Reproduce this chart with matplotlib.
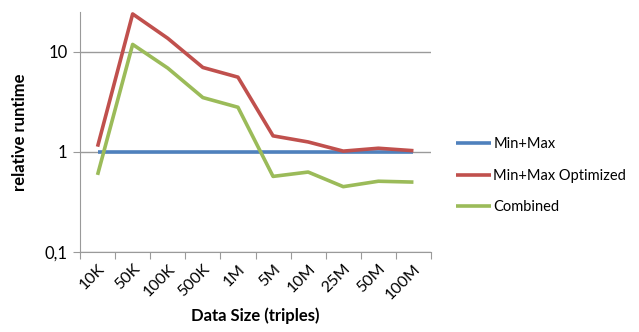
import matplotlib
matplotlib.use("Agg")
import matplotlib.pyplot as plt
from matplotlib.ticker import FixedLocator, NullLocator
import numpy as np

plt.rcParams['font.family'] = ['Lato', 'DejaVu Sans']

sizes = ["10K", "50K", "100K", "500K", "1M", "5M", "10M", "25M", "50M", "100M"]
min_max = [1, 1, 1, 1, 1, 1, 1, 1, 1, 1]
min_max_opt = [1.13, 24.0, 13.7, 7.0, 5.6, 1.45, 1.26, 1.02, 1.09, 1.03]
combined = [0.59, 11.9, 6.9, 3.5, 2.8, 0.57, 0.63, 0.45, 0.51, 0.50]

series = [
    ("Min+Max", min_max, "#4F81BD"),
    ("Min+Max Optimized", min_max_opt, "#C0504D"),
    ("Combined", combined, "#9BBB59"),
]

fig = plt.figure(figsize=(6.39, 3.32), dpi=100)
ax = fig.add_axes([80 / 639, 1 - 252 / 332, 351 / 639, 240 / 332])

x = np.arange(len(sizes))
for name, vals, col in series:
    ax.plot(x, vals, color=col, lw=2.6, label=name, solid_capstyle='butt')

ax.set_yscale('log')
ax.set_ylim(0.1, 25.1)
ax.set_xlim(-0.5, len(sizes) - 0.5)

ax.yaxis.set_major_locator(FixedLocator([0.1, 1, 10]))
ax.yaxis.set_minor_locator(NullLocator())
ax.set_yticklabels(["0,1", "1", "10"])
ax.grid(axis='y', which='major', color='#9a9a9a', lw=1)
ax.set_axisbelow(True)

ax.xaxis.set_major_locator(FixedLocator(np.arange(-0.5, len(sizes), 1)))
ax.xaxis.set_major_formatter(plt.NullFormatter())
ax.xaxis.set_minor_locator(FixedLocator(x))
ax.set_xticklabels(sizes, minor=True, rotation=45, ha='right', va='top',
                   rotation_mode='anchor')
ax.tick_params(axis='x', which='minor', length=0, pad=7, labelsize=11.5)
ax.tick_params(axis='x', which='major', length=5, color='#9a9a9a')
ax.tick_params(axis='y', which='major', length=5, color='#9a9a9a', labelsize=12, pad=4)

for s in ['top', 'right']:
    ax.spines[s].set_visible(False)
for s in ['left', 'bottom']:
    ax.spines[s].set_color('#9a9a9a')

ax.set_ylabel("relative runtime", fontweight='bold', fontsize=12, labelpad=12)
ax.set_xlabel("Data Size (triples)", fontweight='bold', fontsize=12, labelpad=4)

fig.legend(loc='upper left', bbox_to_anchor=(443 / 639, 1 - 124 / 332),
           frameon=False, fontsize=10.5, handlelength=2.4, handletextpad=0.15,
           labelspacing=1.2)

fig.savefig("out.png", dpi=100)
